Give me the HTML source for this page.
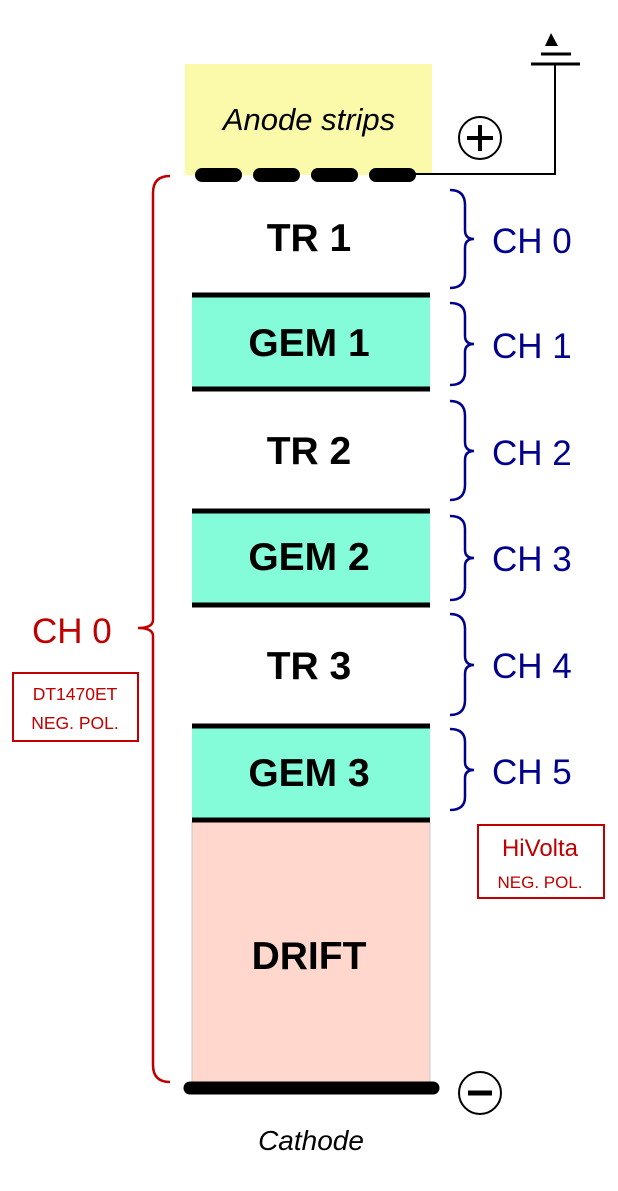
<!DOCTYPE html>
<html><head><style>body{margin:0;background:#fff}svg{display:block}</style></head><body>
<svg width="618" height="1191" viewBox="0 0 618 1191" xmlns="http://www.w3.org/2000/svg" font-family="Liberation Sans, Arial, sans-serif">
<rect x="185" y="64" width="247" height="111" fill="#fafaaa"/>
<text x="309" y="130" font-size="31" font-style="italic" text-anchor="middle">Anode strips</text>
<g stroke="#000" stroke-width="14" stroke-linecap="round">
<line x1="202" y1="175" x2="235" y2="175"/><line x1="260" y1="175" x2="293" y2="175"/><line x1="318" y1="175" x2="351" y2="175"/><line x1="376" y1="175" x2="409" y2="175"/>
</g>
<polyline points="412,174 555,174 555,64" fill="none" stroke="#000" stroke-width="2"/>
<line x1="531" y1="64" x2="580" y2="64" stroke="#000" stroke-width="3"/>
<line x1="541" y1="54" x2="571" y2="54" stroke="#000" stroke-width="3"/>
<polygon points="551,33 545,46 558,46" fill="#000"/>
<circle cx="480" cy="138" r="21" fill="none" stroke="#000" stroke-width="2"/>
<line x1="467" y1="138" x2="493" y2="138" stroke="#000" stroke-width="4"/><line x1="480" y1="125" x2="480" y2="151" stroke="#000" stroke-width="4"/>
<rect x="192" y="297" width="238" height="92" fill="#84fcda"/>
<rect x="192" y="511" width="238" height="94" fill="#84fcda"/>
<rect x="192" y="727" width="238" height="93" fill="#84fcda"/>
<rect x="192" y="822" width="238" height="261" fill="#ffd7cc" stroke="#c8c8c8" stroke-width="1"/>
<g stroke="#000" stroke-width="5">
<line x1="192" y1="295" x2="430" y2="295"/><line x1="192" y1="389" x2="430" y2="389"/>
<line x1="192" y1="511" x2="430" y2="511"/><line x1="192" y1="605" x2="430" y2="605"/>
<line x1="192" y1="726" x2="430" y2="726"/><line x1="192" y1="820" x2="430" y2="820"/>
</g>
<line x1="190" y1="1088" x2="433" y2="1088" stroke="#000" stroke-width="13" stroke-linecap="round"/>
<circle cx="480" cy="1093" r="21" fill="none" stroke="#000" stroke-width="2"/>
<line x1="468" y1="1093" x2="492" y2="1093" stroke="#000" stroke-width="5"/>
<g font-size="39" font-weight="bold" text-anchor="middle">
<text x="309" y="251">TR 1</text><text x="309" y="356">GEM 1</text><text x="309" y="464">TR 2</text>
<text x="309" y="570">GEM 2</text><text x="309" y="679">TR 3</text><text x="309" y="786">GEM 3</text>
<text x="309" y="969">DRIFT</text>
</g>
<text x="311" y="1150" font-size="28" font-style="italic" text-anchor="middle">Cathode</text>
<g fill="none" stroke="#00008c" stroke-width="2.5">
<path d="M450,190 Q465,190 465,205 L465,230 Q465,239 474,239 Q465,239 465,248 L465,273 Q465,288 450,288"/>
<path d="M450,303 Q465,303 465,316 L465,336 Q465,344 474,344 Q465,344 465,352 L465,372 Q465,385 450,385"/>
<path d="M450,401 Q465,401 465,416 L465,442 Q465,451 474,451 Q465,451 465,460 L465,485 Q465,500 450,500"/>
<path d="M450,516 Q465,516 465,529 L465,550 Q465,558 474,558 Q465,558 465,566 L465,587 Q465,600 450,600"/>
<path d="M450,614 Q465,614 465,629 L465,656 Q465,665 474,665 Q465,665 465,674 L465,700 Q465,715 450,715"/>
<path d="M450,729 Q465,729 465,742 L465,762 Q465,770 474,770 Q465,770 465,778 L465,797 Q465,810 450,810"/>
</g>
<g fill="#00008c" font-size="35">
<text x="492" y="253">CH 0</text><text x="492" y="358">CH 1</text><text x="492" y="465">CH 2</text>
<text x="492" y="571">CH 3</text><text x="492" y="678">CH 4</text><text x="492" y="784">CH 5</text>
</g>
<path d="M170,176 Q153,176 153,193 L153,620 Q153,628 138,628 Q153,628 153,636 L153,1065 Q153,1082 170,1082" fill="none" stroke="#c00000" stroke-width="2.5"/>
<text x="32" y="643" font-size="35" fill="#c00000">CH 0</text>
<rect x="13" y="673" width="125" height="68" fill="none" stroke="#c00000" stroke-width="2"/>
<text x="75" y="700" font-size="17.5" fill="#c00000" text-anchor="middle">DT1470ET</text>
<text x="75" y="729" font-size="17.5" fill="#c00000" text-anchor="middle">NEG. POL.</text>
<rect x="478" y="825" width="126" height="73" fill="none" stroke="#c00000" stroke-width="2"/>
<text x="540" y="856" font-size="24" fill="#c00000" text-anchor="middle">HiVolta</text>
<text x="540" y="888" font-size="17" fill="#c00000" text-anchor="middle">NEG. POL.</text>
</svg>
</body></html>
